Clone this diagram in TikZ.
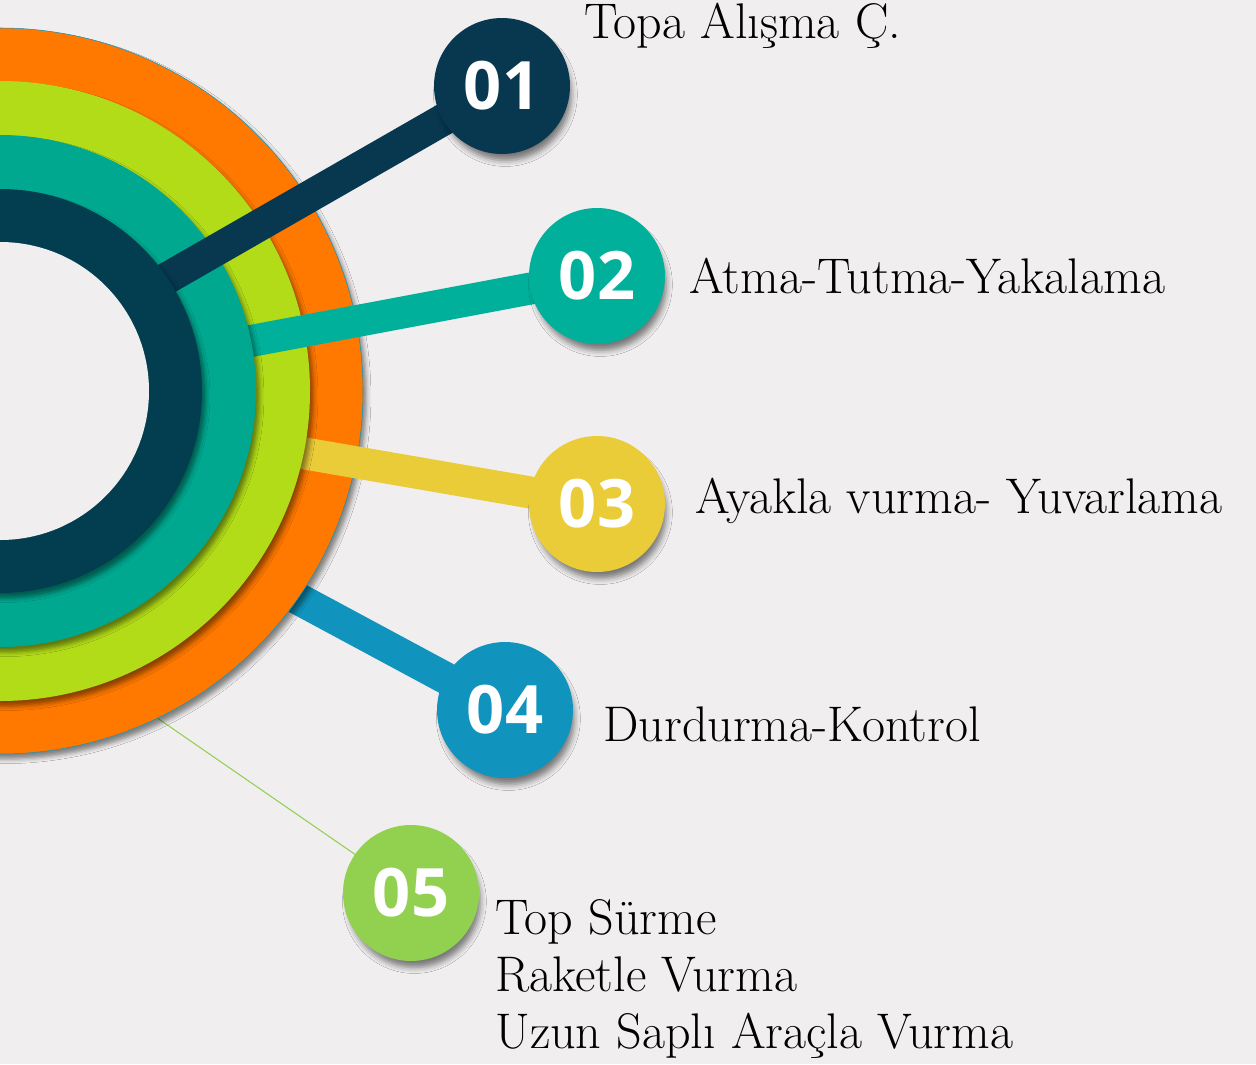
\documentclass[tikz,border=0pt]{standalone}
\usepackage{fontspec}
\newfontfamily\numfont{Open Sans}
\usetikzlibrary{shadows.blur, backgrounds, positioning}
\definecolor{PaperGray}{RGB}{240, 238, 239}
\definecolor{RingOrange}{RGB}{255, 120, 0}
\definecolor{RingLime}{RGB}{179, 220, 24}
\definecolor{RingTeal}{RGB}{0, 168, 144}
\definecolor{RingNavy}{RGB}{2, 62, 79}
\definecolor{StepNavy}{RGB}{7, 56, 80}
\definecolor{StepTeal}{RGB}{0, 176, 154}
\definecolor{StepYellow}{RGB}{234, 203, 56}
\definecolor{StepBlue}{RGB}{16, 148, 189}
\definecolor{StepGreen}{RGB}{146, 208, 80}

\begin{document}
\begin{tikzpicture}[x=0.02cm, y=-0.02cm,
            ring/.style={blur shadow={shadow xshift=2pt, shadow yshift=-3pt,
                         shadow blur radius=2.5pt, shadow opacity=45}},
            bar/.style={line width=0.64cm},
            badge/.style={circle, minimum size=2.72cm, inner sep=0pt, text=white,
                          font=\numfont\bfseries\fontsize{38}{38}\selectfont,
                          blur shadow={shadow xshift=2pt, shadow yshift=-5pt,
                          shadow scale=0.97, shadow blur radius=3.5pt,
                          shadow opacity=50}},
            caption/.style={anchor=base west, inner sep=0pt, align=left,
                            font=\fontsize{28.5}{32.4}\selectfont}
        ]
            \useasboundingbox (0, 0) rectangle (1256, 1064);

            \node[badge, fill=StepNavy] (c1) at (502, 86) {01};
            \node[badge, fill=StepTeal] (c2) at (597, 276) {02};
            \node[badge, fill=StepYellow] (c3) at (597, 504) {03};
            \node[badge, fill=StepBlue] (c4) at (505, 710) {04};
            \node[badge, fill=StepGreen] (c5) at (411, 893) {05};

            \node[caption] (t1) at (584, 39) {Topa Alışma Ç.};
            \node[caption] (t2) at (689, 293) {Atma-Tutma-Yakalama};
            \node[caption] (t3) at (695, 513) {Ayakla vurma- Yuvarlama};
            \node[caption] (t4) at (603, 741) {Durdurma-Kontrol};
            \node[caption] (t5) at (495, 1048)
                {Top Sürme\\ Raketle Vurma\\ Uzun Saplı Araçla Vurma};

            \coordinate (s1) at (150, 288);
            \coordinate (s2) at (235, 344);
            \coordinate (s3) at (285, 450);
            \coordinate (s4) at (280, 589);
            \coordinate (s5) at (150, 713);

            \begin{pgfonlayer}{background}
                \clip (0, 0) rectangle (1256, 1064);
                \fill[PaperGray] (0, 0) rectangle (1256, 1064);

                % rings stacked from the outside in, each bar under its ring
                \draw[bar, StepBlue] (s4) -- (c4.center);
                \draw[StepGreen, line width=0.6pt] (s5) -- (c5.center);
                \fill[ring, RingOrange, draw=StepBlue, line width=0.3pt] (0, 391) circle (363);
                \draw[bar, StepYellow] (s3) -- (c3.center);
                \fill[ring, RingLime] (0, 391) circle (310);
                \draw[bar, StepTeal] (s2) -- (c2.center);
                \fill[ring, RingTeal] (0, 391) circle (256);
                \draw[bar, StepNavy] (s1) -- (c1.center);
                \fill[ring, RingNavy] (0, 391) circle (202);
                \fill[PaperGray] (0, 391) circle (149);
            \end{pgfonlayer}
        \end{tikzpicture}
\end{document}
